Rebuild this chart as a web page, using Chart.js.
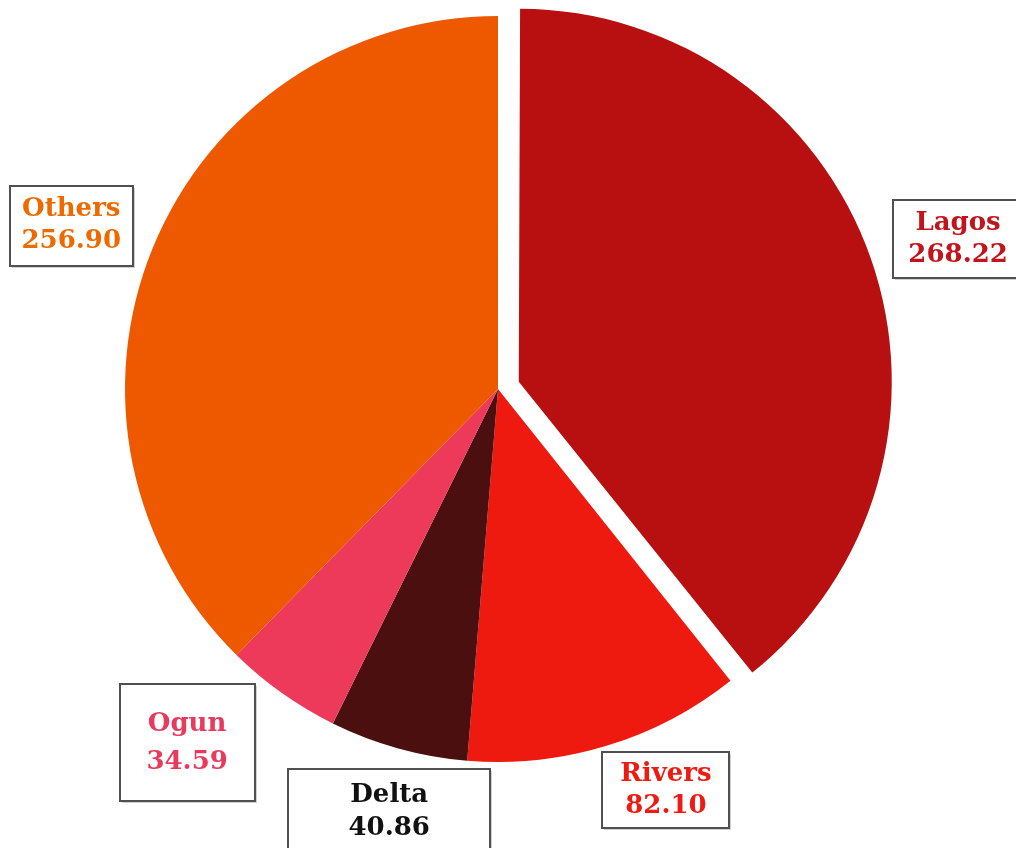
<!DOCTYPE html>
<html>
<head>
<meta charset="utf-8">
<script src="https://cdn.jsdelivr.net/npm/chart.js@4/dist/chart.umd.min.js"></script>
<style>
    html, body { margin: 0; padding: 0; background: #ffffff; }
    #wrap { width: 1016px; height: 848px; }
</style>
</head>
<body>
<div id="wrap"><canvas id="state-share-chart" width="1016" height="848"></canvas></div>
<script>
var state_labels = ['Lagos', 'Rivers', 'Delta', 'Ogun', 'Others'];
var state_values = [268.22, 82.10, 40.86, 34.59, 256.90];
var value_labels = ['268.22', '82.10', '40.86', '34.59', '256.90'];

// styling
var slice_colors = ['#b80f10', '#ee1a0f', '#4b0f0f', '#ee3a5a', '#ee5900'];
var text_colors = ['#c2141c', '#ee1a14', '#111111', '#e83a5c', '#ee6a00'];
var slice_offsets = [88, 0, 0, 0, 0];
// label box placement: distance from pie centre, turn (deg) from slice middle
var label_dist = [484, 435, 437, 471, 457];
var label_turn = [1.2, -5.8, -1.1, 5.9, -1.3];
var box_w = [130, 127, 202, 135, 123];
var box_h = [78, 76, 86, 117, 80];
var line_gap = [32, 32, 33, 38, 32];

// Chart.js grows an offset slice's radius a bit; keep it the same size as the rest
var keepRadius = {
    id: 'keepRadius',
    beforeDatasetsDraw: function (chart) {
        var meta = chart.getDatasetMeta(0);
        meta.data.forEach(function (arc, i) {
            if (arc._baseOuter === undefined) {
                arc._baseOuter = arc.outerRadius;
            }
            var shift = (slice_offsets[i] || 0) / 4;
            var fix = 1 - Math.sin(Math.min(Math.PI, arc.circumference || 0));
            arc.outerRadius = arc._baseOuter - shift * fix;
        });
    }
};

var labelBoxes = {
    id: 'labelBoxes',
    afterDatasetsDraw: function (chart) {
        var ctx = chart.ctx;
        var meta = chart.getDatasetMeta(0);
        ctx.save();
        meta.data.forEach(function (arc, i) {
            var mid = (arc.startAngle + arc.endAngle) / 2 + label_turn[i] * Math.PI / 180;
            var cx = arc.x + Math.cos(mid) * label_dist[i];
            var cy = arc.y + Math.sin(mid) * label_dist[i];
            var w = box_w[i], h = box_h[i];
            var x0 = Math.round(cx - w / 2), y0 = Math.round(cy - h / 2);

            ctx.fillStyle = 'rgba(0,0,0,0.18)';
            ctx.fillRect(x0 + 2, y0 + 2, w, h);
            ctx.fillStyle = '#ffffff';
            ctx.fillRect(x0, y0, w, h);
            ctx.lineWidth = 2;
            ctx.strokeStyle = '#505050';
            ctx.strokeRect(x0, y0, w, h);

            ctx.fillStyle = text_colors[i];
            ctx.font = 'bold 26px "DejaVu Serif", "Liberation Serif", serif';
            ctx.textAlign = 'center';
            ctx.textBaseline = 'middle';
            ctx.fillText(state_labels[i], cx, cy - line_gap[i] / 2);
            ctx.fillText(value_labels[i], cx, cy + line_gap[i] / 2);
        });
        ctx.restore();
    }
};

var ctx = document.getElementById('state-share-chart');
var StateShareChart = new Chart(ctx, {
    type: 'pie',
    data: {
        labels: state_labels,
        datasets: [{
            data: state_values,
            backgroundColor: slice_colors,
            borderWidth: 0,
            offset: slice_offsets
        }]
    },
    plugins: [keepRadius, labelBoxes],
    options: {
        responsive: false,
        animation: false,
        events: [],
        radius: 373,
        layout: {
            padding: { left: 0, right: 20, top: 0, bottom: 70 }
        },
        plugins: {
            legend: false,
            tooltip: { enabled: false }
        }
    }
});
</script>
</body>
</html>
